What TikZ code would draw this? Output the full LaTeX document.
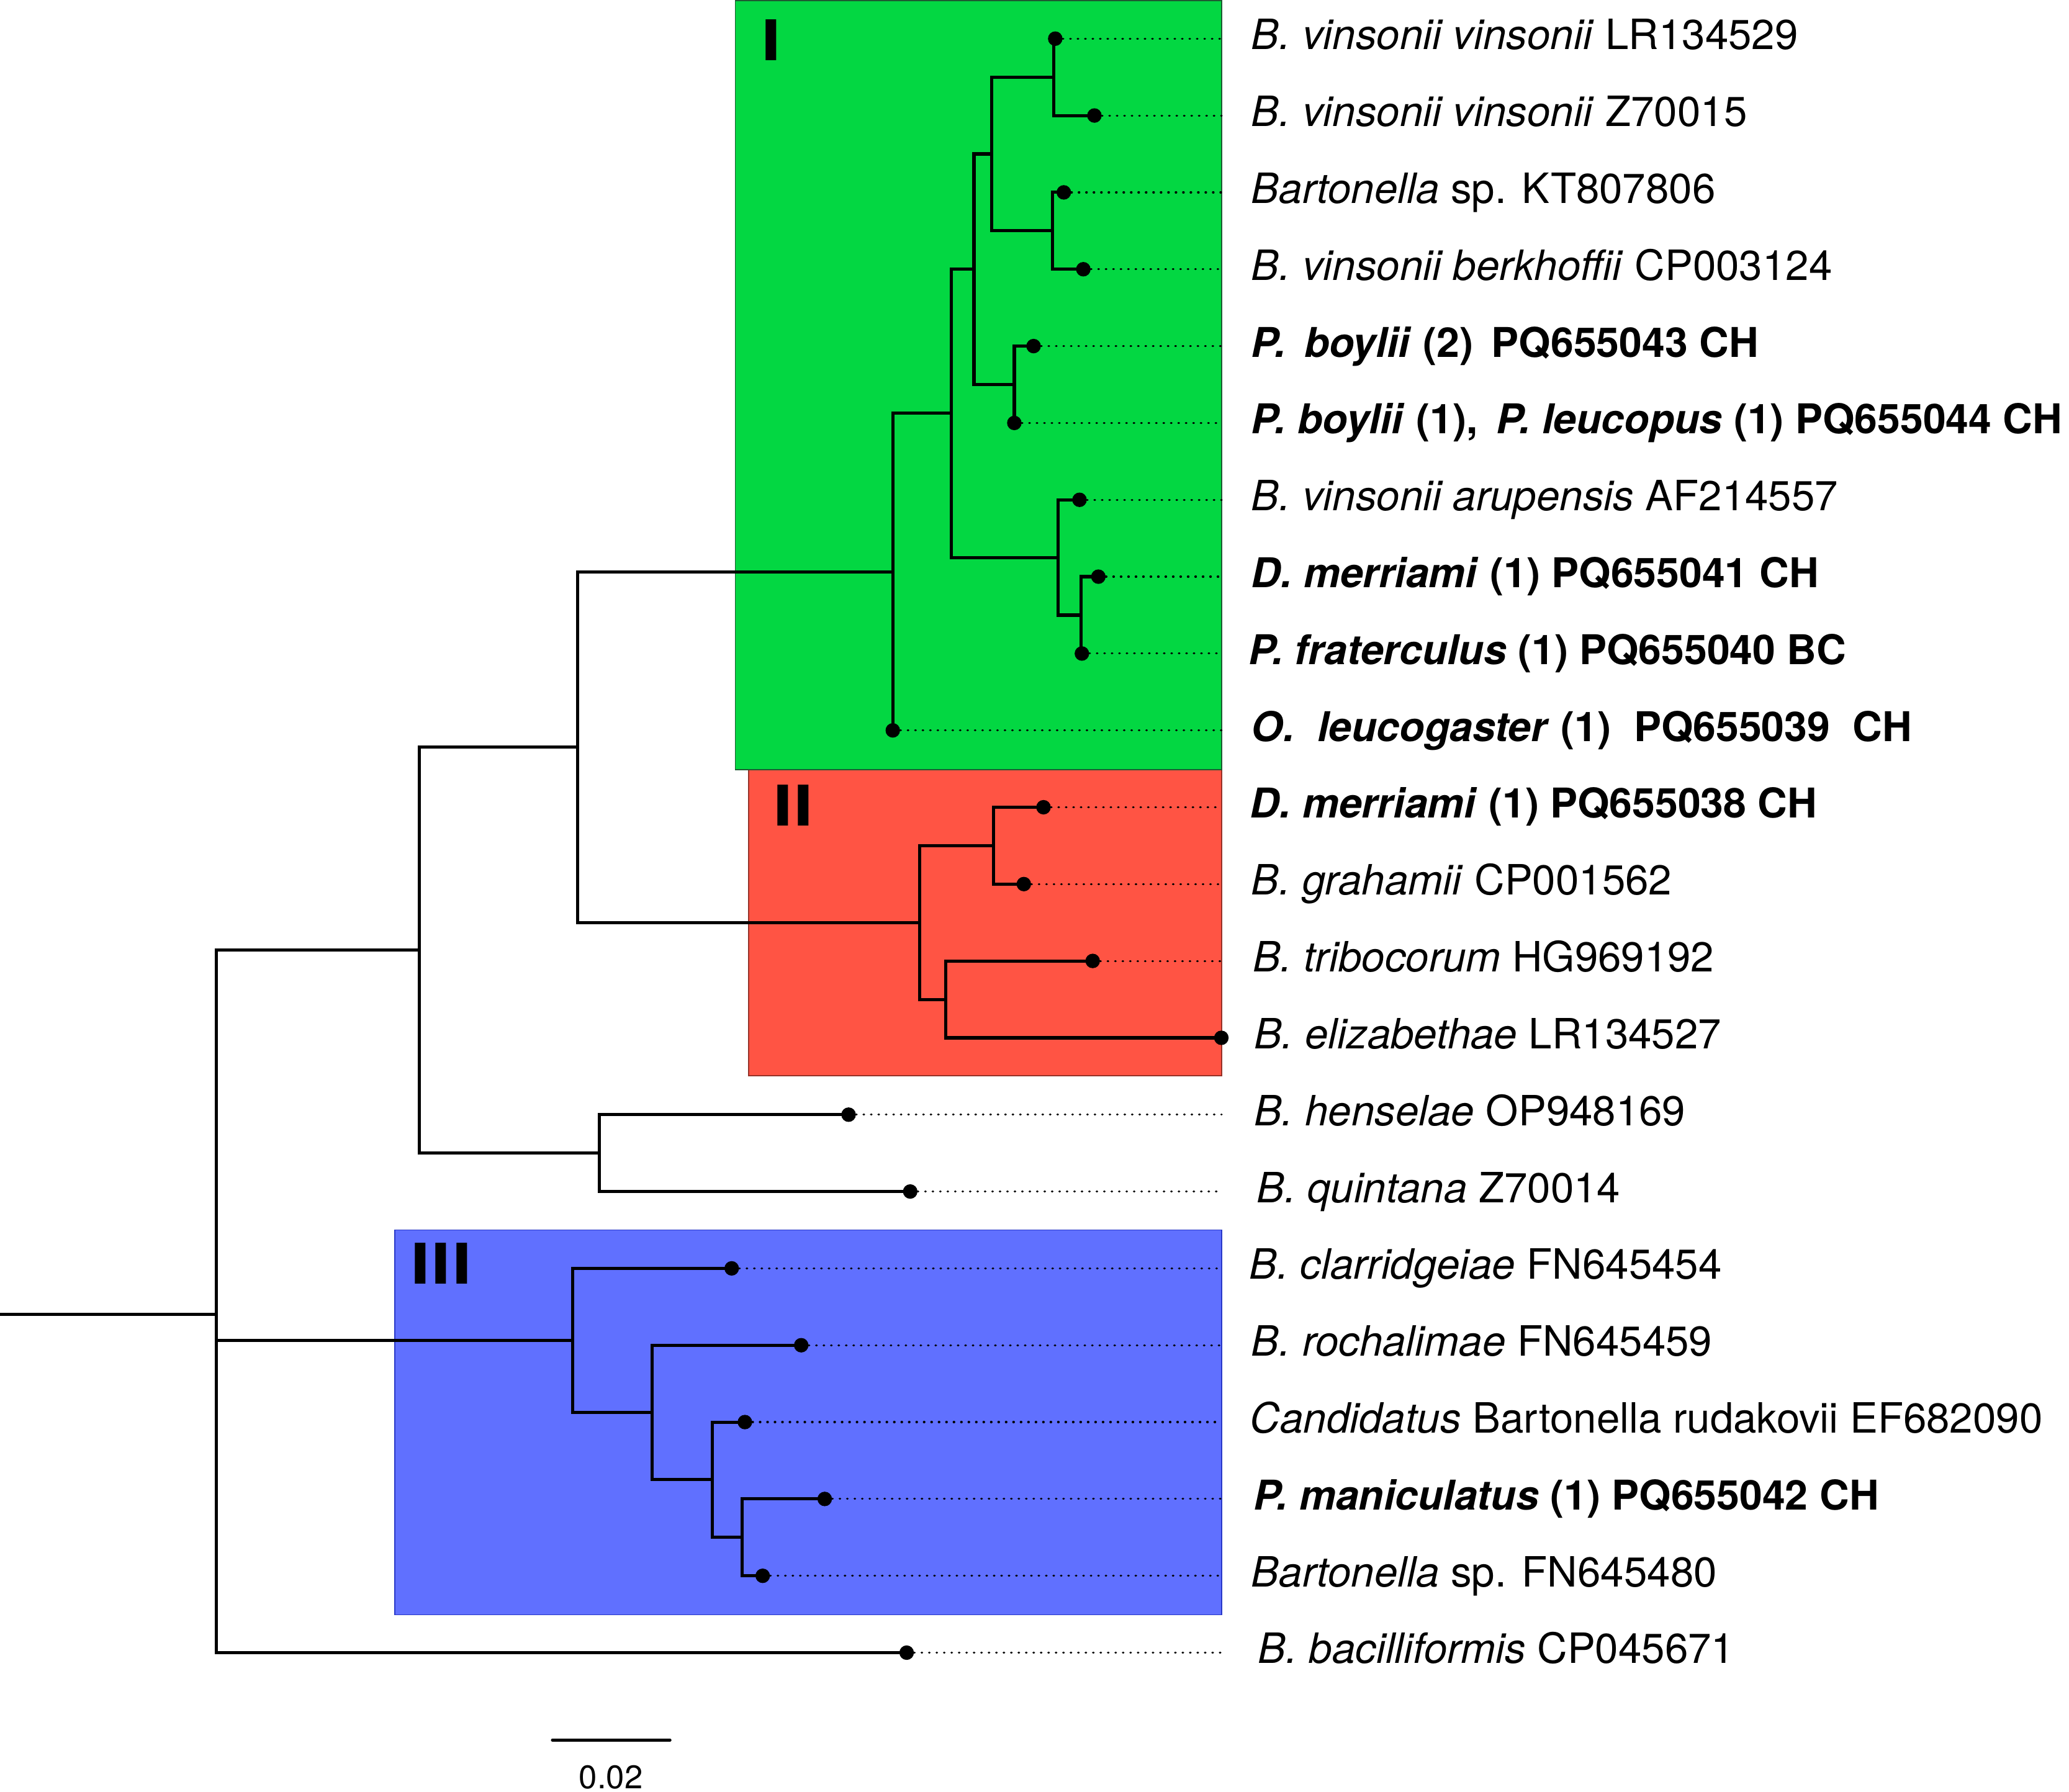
\documentclass[tikz,border=0pt]{standalone}
\usepackage{fontspec}
\setmainfont{TeX Gyre Heros}
\newfontfamily\cladefont{DejaVu Sans}
\usepackage{xcolor}
\usepackage{tikz}
\usetikzlibrary{calc}
\definecolor{cladeIgreen}{RGB}{3,215,66}
\definecolor{cladeIIred}{RGB}{255,84,68}
\definecolor{cladeIIIblue}{RGB}{96,112,255}
\definecolor{edgeIgreen}{RGB}{30,90,50}
\definecolor{edgeIIred}{RGB}{150,50,40}
\definecolor{edgeIIIblue}{RGB}{40,56,200}

\begin{document}
\begin{tikzpicture}[x=0.2mm,y=-0.2mm,
		branch/.style={line width=0.48mm},
		leader/.style={line width=0.3mm,line cap=round,dash pattern=on 0.1mm off 1.03mm},
		taxon/.style={anchor=base west,inner sep=0pt,font=\fontsize{18}{21}\selectfont},
		newtaxon/.style={taxon,font=\fontsize{17.7}{21}\selectfont\bfseries},
		cladelabel/.style={anchor=base west,inner sep=0pt,font=\cladefont\bfseries\fontsize{24.2}{28}\selectfont},
		cladebox/.style={line width=0.16mm}]
		\useasboundingbox (0,0) rectangle (1568,1358);
		\filldraw[cladebox,fill=cladeIIred,draw=edgeIIred] (567.2,582.5) rectangle (925.8,815.2);
		\filldraw[cladebox,fill=cladeIgreen,draw=edgeIgreen] (557.2,0.5) rectangle (925.8,583.2);
		\filldraw[cladebox,fill=cladeIIIblue,draw=edgeIIIblue] (299.1,932.2) rectangle (925.8,1223.8);
		\node[cladelabel] (labI) at (576,45.8) {I};
		\node[cladelabel] (labII) at (585,625.7) {II};
		\node[cladelabel] (labIII) at (310.3,973) {III};
		\coordinate (rim) at (925.8,0);
		\coordinate (t1) at (799.7,29.3);
		\coordinate (t2) at (829.4,87.55);
		\coordinate (t3) at (806.2,145.8);
		\coordinate (t4) at (821.0,204.05);
		\coordinate (t5) at (783.3,262.3);
		\coordinate (t6) at (768.7,320.55);
		\coordinate (t7) at (818.1,378.8);
		\coordinate (t8) at (832.4,437.05);
		\coordinate (t9) at (819.9,495.3);
		\coordinate (t10) at (676.6,553.55);
		\coordinate (t11) at (790.8,611.8);
		\coordinate (t12) at (775.9,670.05);
		\coordinate (t13) at (828.1,728.3);
		\coordinate (t14) at (925.6,786.55);
		\coordinate (t15) at (643.1,844.8);
		\coordinate (t16) at (689.8,903.05);
		\coordinate (t17) at (554.5,961.3);
		\coordinate (t18) at (607.2,1019.55);
		\coordinate (t19) at (564.5,1077.8);
		\coordinate (t20) at (625.0,1136.05);
		\coordinate (t21) at (578.0,1194.3);
		\coordinate (t22) at (687.1,1252.55);
		\coordinate (n12) at (798.6,58.43);
		\coordinate (n34) at (797.8,174.93);
		\coordinate (n14) at (751.4,116.68);
		\coordinate (n56) at (768.7,291.43);
		\coordinate (n16) at (738.1,204.05);
		\coordinate (n89) at (819.2,466.18);
		\coordinate (n79) at (801.9,422.49);
		\coordinate (n19) at (721.1,313.27);
		\coordinate (cladeI) at (676.6,433.41);
		\coordinate (n1112) at (753.0,640.93);
		\coordinate (n1314) at (716.8,757.43);
		\coordinate (cladeII) at (696.8,699.18);
		\coordinate (nsplit) at (437.7,566.30);
		\coordinate (n1516) at (454.4,873.93);
		\coordinate (nupper) at (317.7,720.11);
		\coordinate (n2021) at (562.4,1165.18);
		\coordinate (n1921) at (539.8,1121.49);
		\coordinate (n1821) at (494.1,1070.52);
		\coordinate (cladeIII) at (434.1,1015.91);
		\coordinate (root) at (163.8,996.19);
		\coordinate (stem) at (0,996.19);
		\foreach \i in {1,...,13,15,16,...,22}
			\draw[leader] (t\i) -- (t\i -| rim);
		\draw[branch] (n12) |- (t1) (n12) |- (t2);
		\draw[branch] (n34) |- (t3) (n34) |- (t4);
		\draw[branch] (n14) |- (n12) (n14) |- (n34);
		\draw[branch] (n56) |- (t5) (n56) |- (t6);
		\draw[branch] (n16) |- (n14) (n16) |- (n56);
		\draw[branch] (n89) |- (t8) (n89) |- (t9);
		\draw[branch] (n79) |- (t7) (n79) |- (n89);
		\draw[branch] (n19) |- (n16) (n19) |- (n79);
		\draw[branch] (cladeI) |- (n19) (cladeI) |- (t10);
		\draw[branch] (n1112) |- (t11) (n1112) |- (t12);
		\draw[branch] (n1314) |- (t13) (n1314) |- (t14);
		\draw[branch] (cladeII) |- (n1112) (cladeII) |- (n1314);
		\draw[branch] (nsplit) |- (cladeI) (nsplit) |- (cladeII);
		\draw[branch] (n1516) |- (t15) (n1516) |- (t16);
		\draw[branch] (nupper) |- (nsplit) (nupper) |- (n1516);
		\draw[branch] (n2021) |- (t20) (n2021) |- (t21);
		\draw[branch] (n1921) |- (t19) (n1921) |- (n2021);
		\draw[branch] (n1821) |- (t18) (n1821) |- (n1921);
		\draw[branch] (cladeIII) |- (t17) (cladeIII) |- (n1821);
		\draw[branch] (root) |- (nupper) (root) |- (cladeIII) (root) |- (t22);
		\draw[branch] (stem) -- (root);
		\foreach \i in {1,...,22}
			\fill (t\i) circle (1.1mm);
		\node[taxon] (l1) at (948,37.5) {\textit{B. vinsonii vinsonii} LR134529};
		\node[taxon] (l2) at (948,95.75) {\textit{B. vinsonii vinsonii} Z70015};
		\node[taxon] (l3) at (948,154) {\textit{Bartonella} sp. KT807806};
		\node[taxon] (l4) at (948,212.25) {\textit{B. vinsonii berkhoffii} CP003124};
		\node[newtaxon] (l5) at (948,270.5) {\textit{P.\ \,boylii} (2)\ \,PQ655043 CH};
		\node[newtaxon] (l6) at (948,328.75) {\textit{P. boylii} (1),\ \,\textit{P. leucopus} (1) PQ655044 CH};
		\node[taxon] (l7) at (948,387) {\textit{B. vinsonii arupensis} AF214557};
		\node[newtaxon] (l8) at (948,445.25) {\textit{D. merriami} (1) PQ655041 CH};
		\node[newtaxon] (l9) at (946,503.5) {\textit{P. fraterculus} (1) PQ655040 BC};
		\node[newtaxon] (l10) at (948,561.75) {\textit{O.\ \ leucogaster} (1)\ \ PQ655039\ \ CH};
		\node[newtaxon] (l11) at (947,620) {\textit{D. merriami} (1) PQ655038 CH};
		\node[taxon] (l12) at (948,678.25) {\textit{B. grahamii} CP001562};
		\node[taxon] (l13) at (949,736.5) {\textit{B. tribocorum} HG969192};
		\node[taxon] (l14) at (950,794.75) {\textit{B. elizabethae} LR134527};
		\node[taxon] (l15) at (950,853) {\textit{B. henselae} OP948169};
		\node[taxon] (l16) at (952,911.25) {\textit{B. quintana} Z70014};
		\node[taxon] (l17) at (946.5,969.5) {\textit{B. clarridgeiae} FN645454};
		\node[taxon] (l18) at (948,1027.75) {\textit{B. rochalimae} FN645459};
		\node[taxon] (l19) at (947,1086) {\textit{Candidatus} Bartonella rudakovii EF682090};
		\node[newtaxon] (l20) at (949.5,1144.25) {\textit{P. maniculatus} (1) PQ655042 CH};
		\node[taxon] (l21) at (948,1202.5) {\textit{Bartonella} sp. FN645480};
		\node[taxon] (l22) at (953,1260.75) {\textit{B. bacilliformis} CP045671};
		\coordinate (sbl) at (418.7,1318.8);
		\coordinate (sbr) at (507.7,1318.8);
		\draw[branch,line cap=round] (sbl) -- (sbr);
		\node[anchor=base,inner sep=0pt,font=\fontsize{14.1}{17}\selectfont] (sblabel) at (463,1355.5) {0.02};
\end{tikzpicture}
\end{document}
